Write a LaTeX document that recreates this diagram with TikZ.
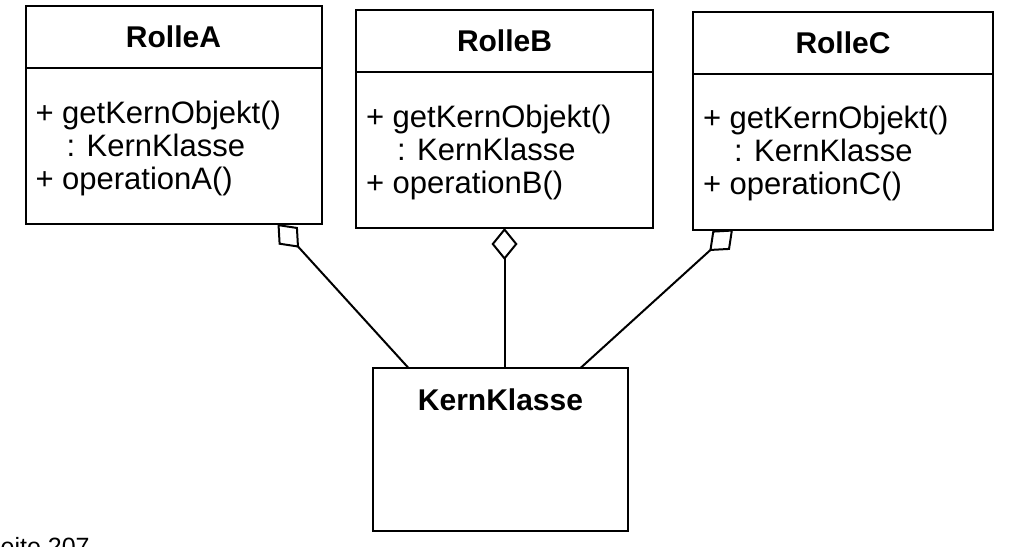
\documentclass[tikz,border=0pt]{standalone}
\usepackage{fontspec}
\setmainfont{Liberation Sans}
\usetikzlibrary{arrows.meta,positioning}

\tikzset{
  kopf/.style={draw, outer sep=0pt, minimum width=#1, minimum height=62pt,
    font=\bfseries\fontsize{30}{33}\selectfont},
  rumpf/.style={draw, outer sep=0pt, minimum width=#1, minimum height=156pt},
  ops/.style={anchor=north west, align=left, inner sep=0pt,
    font=\fontsize{31}{33}\selectfont},
  agg/.style={-{Diamond[open, length=32pt, width=26pt]}},
}

\begin{document}
\begin{tikzpicture}[x=1pt, y=-1pt, line width=2pt]
\useasboundingbox (0,0) rectangle (1014,546);

\node[kopf=296pt] (rolleA) at (173.5,37) {RolleA};
\node[rumpf=296pt, below=0pt of rolleA] (rolleA-ops) {};
\node[ops] (rolleA-text) at ([xshift=9pt, yshift=-32pt]rolleA-ops.north west)
  {+ getKernObjekt()\\\hspace*{1.0em}: KernKlasse\\+ operationA()};

\node[kopf=297pt] (rolleB) at (504.5,41) {RolleB};
\node[rumpf=297pt, below=0pt of rolleB] (rolleB-ops) {};
\node[ops] (rolleB-text) at ([xshift=9pt, yshift=-32pt]rolleB-ops.north west)
  {+ getKernObjekt()\\\hspace*{1.0em}: KernKlasse\\+ operationB()};

\node[kopf=300pt] (rolleC) at (843,42.5) {RolleC};
\node[rumpf=300pt, below=0pt of rolleC] (rolleC-ops) {};
\node[ops] (rolleC-text) at ([xshift=9pt, yshift=-32pt]rolleC-ops.north west)
  {+ getKernObjekt()\\\hspace*{1.0em}: KernKlasse\\+ operationC()};

\node[draw, outer sep=0pt, minimum width=255pt, minimum height=163pt] (kern) at (500.5,449.5) {};
\node[below=20pt of kern.north, inner sep=0pt, font=\bfseries\fontsize{30}{33}\selectfont] (kern-name) {KernKlasse};

\draw[agg] ([xshift=-92pt]kern.north) -- ([xshift=104pt]rolleA-ops.south);
\draw[agg] (kern.north -| rolleB-ops.south) -- (rolleB-ops.south);
\draw[agg] ([xshift=80pt]kern.north) -- ([xshift=-110pt]rolleC-ops.south);

\node[anchor=base west, inner sep=0pt, font=\fontsize{25}{30}\selectfont] (seite) at (-17,555) {Seite 207};
\end{tikzpicture}
\end{document}
